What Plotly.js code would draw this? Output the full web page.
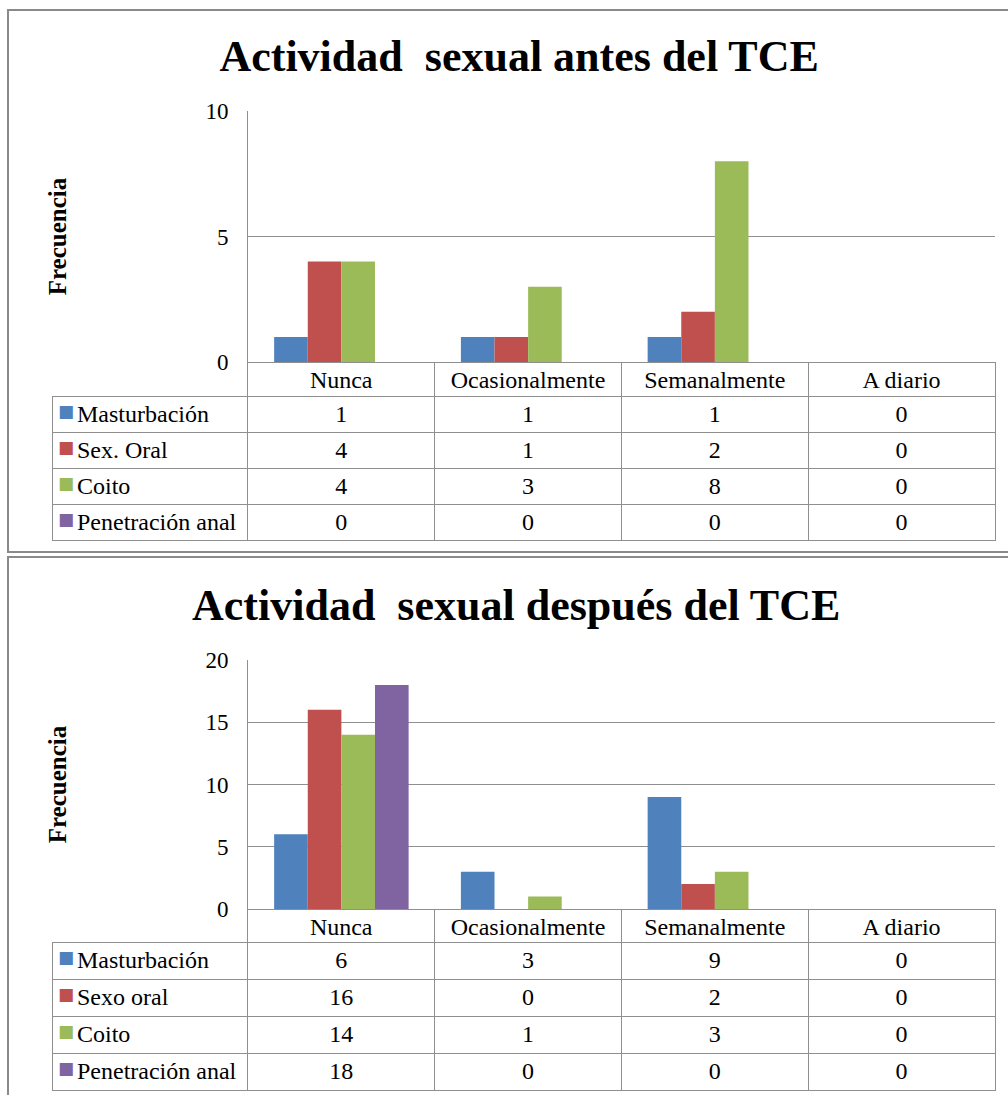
<!DOCTYPE html>
<html><head><meta charset="utf-8">
<script src="https://cdn.plot.ly/plotly-3.0.1.min.js"></script>
<style>html,body{margin:0;padding:0;background:#fff}#chart{width:1008px;height:1095px}</style>
</head><body><div id="chart"></div>
<script>
// ---- data ----
const categories = ['Nunca', 'Ocasionalmente', 'Semanalmente', 'A diario'];
const seriesBefore = ['Masturbación', 'Sex. Oral', 'Coito', 'Penetración anal'];
const seriesAfter = ['Masturbación', 'Sexo oral', 'Coito', 'Penetración anal'];
const colors = ['#4F81BD', '#C0504D', '#9BBB59', '#8064A2'];

const beforeMasturbacion = [1, 1, 1, 0];
const beforeSexOral = [4, 1, 2, 0];
const beforeCoito = [4, 3, 8, 0];
const beforeAnal = [0, 0, 0, 0];

const afterMasturbacion = [6, 3, 9, 0];
const afterSexoOral = [16, 0, 2, 0];
const afterCoito = [14, 1, 3, 0];
const afterAnal = [18, 0, 0, 0];

const titleBefore = 'Actividad  sexual antes del TCE';
const titleAfter = 'Actividad  sexual después del TCE';
const yTitle = 'Frecuencia';

// ---- build ----
const W = 1008, H = 1095;
const px = v => v / W;
const py = v => 1 - v / H;
const FONT = 'Liberation Serif, Times New Roman, serif';
const GRID = '#8f8f8f';
const CLEAR = 'rgba(0,0,0,0)';
const TFS = 24;

const beforeSets = [beforeMasturbacion, beforeSexOral, beforeCoito, beforeAnal];
const afterSets = [afterMasturbacion, afterSexoOral, afterCoito, afterAnal];

function bars(sets, names, xa, ya) {
  return sets.map((vals, i) => ({
    type: 'bar', x: categories, y: vals, name: names[i],
    xaxis: xa, yaxis: ya, showlegend: false,
    marker: {color: colors[i], line: {width: 0}},
    hoverinfo: 'x+y+name'
  }));
}

// grid table: header = categories, body = values
function gridTable(sets, ytop, ybot, hh, ch) {
  const valueCols = categories.map((c, j) => sets.map(s => String(s[j])));
  return {
    type: 'table',
    domain: {x: [px(52), px(995)], y: [py(ybot), py(ytop)]},
    columnwidth: [196, 187, 187, 187, 187],
    header: {
      values: [''].concat(categories),
      align: 'center', height: hh,
      font: {family: FONT, size: TFS, color: '#000'},
      fill: {color: [CLEAR, 'white', 'white', 'white', 'white']},
      line: {color: [CLEAR, GRID, GRID, GRID, GRID], width: 1}
    },
    cells: {
      values: [sets.map(() => '')].concat(valueCols),
      align: 'center', height: ch,
      font: {family: FONT, size: TFS, color: '#000'},
      fill: {color: 'white'},
      line: {color: GRID, width: 1}
    }
  };
}

// series names laid into the first column
function labelTable(names, ytop, ybot, hh, ch) {
  return {
    type: 'table',
    domain: {x: [px(69), px(330)], y: [py(ybot), py(ytop)]},
    columnwidth: [1],
    header: {values: [''], height: hh, fill: {color: CLEAR}, line: {color: CLEAR, width: 0}},
    cells: {
      values: [names], align: 'left', height: ch,
      font: {family: FONT, size: TFS, color: '#000'},
      fill: {color: CLEAR}, line: {color: CLEAR, width: 0}
    }
  };
}

// legend keys (coloured squares)
function keyTable(names, ytop, ybot, hh, ch) {
  return {
    type: 'table',
    domain: {x: [px(56), px(76)], y: [py(ybot), py(ytop)]},
    columnwidth: [1],
    header: {values: [''], height: hh, fill: {color: CLEAR}, line: {color: CLEAR, width: 0}},
    cells: {
      values: [names.map(() => '■')],
      align: 'center', height: ch,
      font: {family: 'DejaVu Sans', size: 17, color: [colors]},
      fill: {color: CLEAR}, line: {color: CLEAR, width: 0}
    }
  };
}

const data = []
  .concat(bars(beforeSets, seriesBefore, 'x', 'y'))
  .concat(bars(afterSets, seriesAfter, 'x2', 'y2'))
  .concat([
    gridTable(beforeSets, 362, 552, 34, 36),
    labelTable(seriesBefore, 362, 552, 34, 36),
    keyTable(seriesBefore, 362, 552, 34, 36),
    gridTable(afterSets, 909, 1095, 33, 37),
    labelTable(seriesAfter, 909, 1095, 33, 37),
    keyTable(seriesAfter, 909, 1095, 33, 37)
  ]);

function yax(domain, range, dtick) {
  return {
    domain: domain, range: range, dtick: dtick, tick0: 0,
    showgrid: true, gridcolor: GRID, gridwidth: 1,
    showline: true, linecolor: GRID, linewidth: 1, zeroline: false,
    ticks: 'outside', ticklen: 0, ticklabelstandoff: 14,
    tickfont: {family: FONT, size: 23, color: '#000'},
    title: {text: '<b>' + yTitle + '</b>', standoff: 131,
            font: {family: FONT, size: 25, color: '#000'}},
    fixedrange: true
  };
}
function xax(anchor) {
  return {
    domain: [px(248), px(995)], anchor: anchor,
    showticklabels: false, showline: true, linecolor: GRID, linewidth: 1,
    showgrid: false, zeroline: false, ticks: '', fixedrange: true
  };
}

const layout = {
  width: W, height: H,
  margin: {l: 0, r: 0, t: 0, b: 0},
  paper_bgcolor: 'white', plot_bgcolor: 'white',
  barmode: 'group', bargap: 0.28, bargroupgap: 0,
  showlegend: false,
  title: {text: '<b>' + titleBefore + '</b>', x: 0.515, xanchor: 'center',
          y: py(56), yref: 'container', yanchor: 'middle',
          font: {family: FONT, size: 44, color: '#000'}},
  xaxis: xax('y'),
  yaxis: yax([py(362), py(111)], [0, 10], 5),
  xaxis2: xax('y2'),
  yaxis2: yax([py(909), py(660)], [0, 20], 5),
  annotations: [{
    text: '<b>' + titleAfter + '</b>', xref: 'paper', yref: 'paper',
    x: 0.512, y: py(605), xanchor: 'center', yanchor: 'middle', showarrow: false,
    font: {family: FONT, size: 44, color: '#000'}
  }],
  shapes: [
    {type: 'rect', xref: 'paper', yref: 'paper', x0: px(8), x1: px(1012), y0: py(552), y1: py(10),
     line: {color: '#8a8a8a', width: 2}, layer: 'below'},
    {type: 'rect', xref: 'paper', yref: 'paper', x0: px(8), x1: px(1012), y0: py(1100), y1: py(557),
     line: {color: '#8a8a8a', width: 2}, layer: 'below'}
  ]
};

Plotly.newPlot('chart', data, layout, {staticPlot: true, displayModeBar: false});
</script></body></html>
